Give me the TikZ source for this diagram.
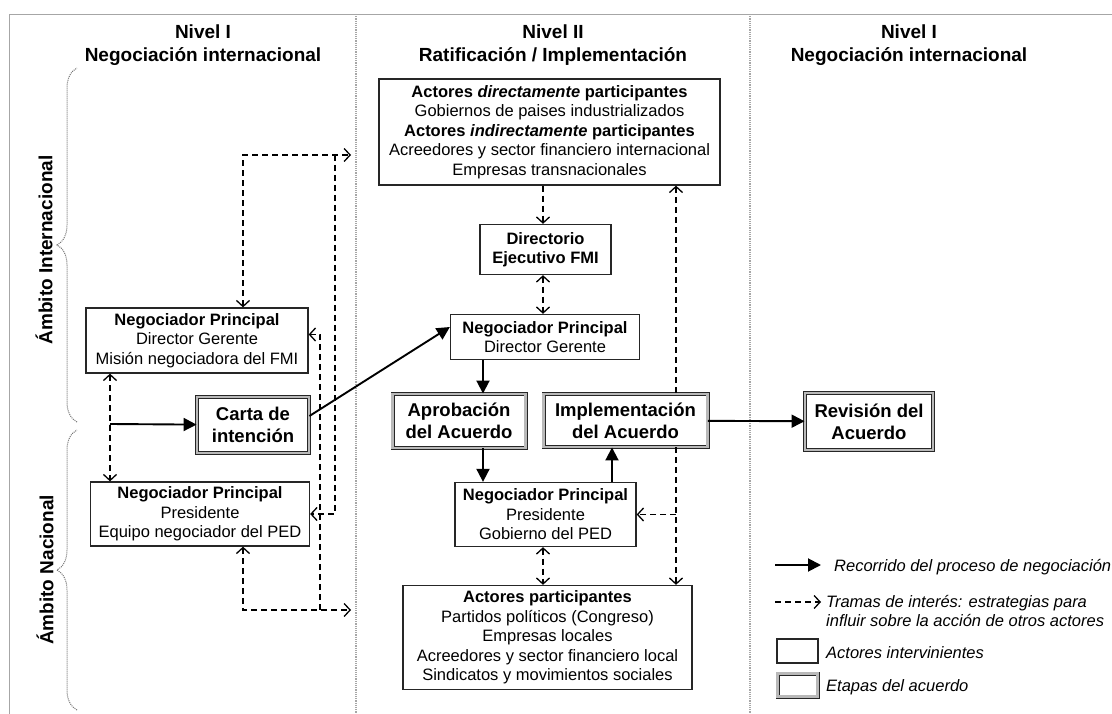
\documentclass[tikz,border=0pt]{standalone}
\usepackage{fontspec}
\setmainfont{Liberation Sans}
\usetikzlibrary{arrows.meta,decorations.pathreplacing}
\tikzset{
  chev/.tip={Straight Barb[length=6pt,width=13pt,line width=1.3pt]},
  flecha/.tip={Triangle[length=13pt,width=13pt]},
  actor/.style={draw=black!85, line width=1.3pt, fill=white, align=center, inner sep=0pt, font=\fontsize{16.5}{19.5}\selectfont},
  etapa/.style={draw=black!85, line width=0.9pt, double=gray!55, double distance=2.2pt, fill=white, align=center, inner sep=0pt, font=\bfseries\fontsize{18.5}{22}\selectfont},
  titulo/.style={align=center, font=\bfseries\fontsize{19}{23}\selectfont},
  ambito/.style={rotate=90, font=\bfseries\fontsize{19}{22}\selectfont},
  leyenda/.style={anchor=west, align=left, inner sep=0pt, font=\itshape\fontsize{16.5}{19}\selectfont},
  proceso/.style={line width=1.9pt, -flecha},
  trama/.style={line width=1.2pt, dash pattern=on 6pt off 4pt},
  nivel/.style={gray!70, line width=1.2pt, densely dotted},
  llave/.style={black!55, line width=1pt, densely dotted, decorate, decoration={brace, amplitude=20pt}}
}
\begin{document}
\begin{tikzpicture}[x=1pt,y=-1pt]
\useasboundingbox (0,0) rectangle (1112,714);
\draw[gray!70, line width=0.8pt] (9,714) -- (9,14) -- (1112,14);
\draw[nivel] (356,14) -- (356,714);
\draw[nivel] (750,14) -- (750,714);

\node[titulo] (nivelIa) at (203,45) {Nivel I\\Negociación internacional};
\node[titulo] (nivelII) at (553,45) {Nivel II\\Ratificación / Implementación};
\node[titulo] (nivelIb) at (909,45) {Nivel I\\Negociación internacional};

\draw[llave] (77,422) -- (77,68);
\draw[llave] (77,710) -- (77,430);
\node[ambito] (ambInt) at (44,250) {Ámbito Internacional};
\node[ambito] (ambNac) at (45,570) {Ámbito Nacional};

\node[actor, minimum width=222pt, minimum height=65pt] (npFmi) at (197,340.5) {\textbf{Negociador Principal}\\Director Gerente\\Misión negociadora del FMI};
\node[etapa, minimum width=112pt, minimum height=56pt] (carta) at (253,425) {Carta de\\intención};
\node[actor, minimum width=219pt, minimum height=64pt] (npPed) at (200,514) {\textbf{Negociador Principal}\\Presidente\\Equipo negociador del PED};

\node[actor, minimum width=341pt, minimum height=106pt] (actInt) at (549.5,132) {\textbf{Actores \textit{directamente} participantes}\\Gobiernos de paises industrializados\\\textbf{Actores \textit{indirectamente} participantes}\\Acreedores y sector financiero internacional\\Empresas transnacionales};
\node[actor, minimum width=131pt, minimum height=50pt, font=\bfseries\fontsize{16.5}{19.5}\selectfont] (directorio) at (545.5,249.5) {Directorio\\Ejecutivo FMI};
\node[actor, minimum width=189pt, minimum height=45pt] (npDir) at (545,337) {\textbf{Negociador Principal}\\Director Gerente};
\node[etapa, minimum width=133pt, minimum height=54pt] (aprob) at (459,421) {Aprobación\\del Acuerdo};
\node[etapa, minimum width=164pt, minimum height=53pt] (implem) at (625.5,420.5) {Implementación\\del Acuerdo};
\node[actor, minimum width=181pt, minimum height=64pt] (npGob) at (545.5,514.5) {\textbf{Negociador Principal}\\Presidente\\Gobierno del PED};
\node[actor, minimum width=289pt, minimum height=104pt] (actNac) at (547.5,637.5) {\textbf{Actores participantes}\\Partidos políticos (Congreso)\\Empresas locales\\Acreedores y sector financiero local\\Sindicatos y movimientos sociales};
\node[etapa, minimum width=128pt, minimum height=57pt] (revision) at (869,421.5) {Revisión del\\Acuerdo};

\coordinate (esqA) at (243,155);
\coordinate (salA) at (351,155);
\coordinate (esqB) at (243,610);
\coordinate (salB) at (351,610);
\coordinate (bajA) at (335,155);
\coordinate (subB) at (320,610);
\coordinate (inicio) at (110,424);
\coordinate (ejeA) at (543,0);
\coordinate (ejeB) at (676,0);
\coordinate (ejeC) at (483,0);
\coordinate (ejeD) at (612,0);

\draw[trama,chev-chev] (npFmi.north -| esqA) -- (esqA) -- (salA);
\draw[trama,chev-chev] (npPed.south -| esqB) -- (esqB) -- (salB);
\draw[trama,-chev] (bajA) |- (npPed.east);
\draw[trama,-chev] (subB) |- ([yshift=6pt]npFmi.east);
\draw[trama,chev-chev] (npFmi.south -| inicio) -- (npPed.north -| inicio);
\draw[proceso] (inicio) -- (carta);
\draw[proceso] ([yshift=9pt]carta.east) -- ([yshift=10pt]npDir.west);

\draw[trama,-chev] (actInt.south -| ejeA) -- (directorio.north -| ejeA);
\draw[trama,chev-chev] (directorio.south -| ejeA) -- (npDir.north -| ejeA);
\draw[trama,chev-chev] (npGob.south -| ejeA) -- (actNac.north -| ejeA);
\draw[trama,chev-] (actInt.south -| ejeB) -- (implem.north -| ejeB);
\draw[trama,-chev] (implem.south -| ejeB) -- (actNac.north -| ejeB);
\draw[trama,-chev] (npGob.east -| ejeB) -- (npGob.east);

\draw[proceso] (npDir.south -| ejeC) -- (aprob.north -| ejeC);
\draw[proceso] (aprob.south -| ejeC) -- (npGob.north -| ejeC);
\draw[proceso] (npGob.north -| ejeD) -- (implem.south -| ejeD);
\draw[proceso] (implem) -- (revision);

\coordinate (leyA1) at (775,565);
\coordinate (leyA2) at (821,565);
\draw[proceso] (leyA1) -- (leyA2);
\node[leyenda] (leyTxt1) at (834,567) {Recorrido del proceso de negociación};
\coordinate (leyB1) at (775,602);
\coordinate (leyB2) at (821,602);
\draw[trama,-chev] (leyB1) -- (leyB2);
\node[leyenda] (leyTxt2) at (826,611) {Tramas de interés: estrategias para\\influir sobre la acción de otros actores};
\node[actor, minimum width=41pt, minimum height=24pt] (leyCaja1) at (797.5,651) {};
\node[leyenda] (leyTxt3) at (826,653) {Actores intervinientes};
\node[etapa, minimum width=40pt, minimum height=23pt] (leyCaja2) at (797.5,685) {};
\node[leyenda] (leyTxt4) at (826,687) {Etapas del acuerdo};
\end{tikzpicture}
\end{document}
